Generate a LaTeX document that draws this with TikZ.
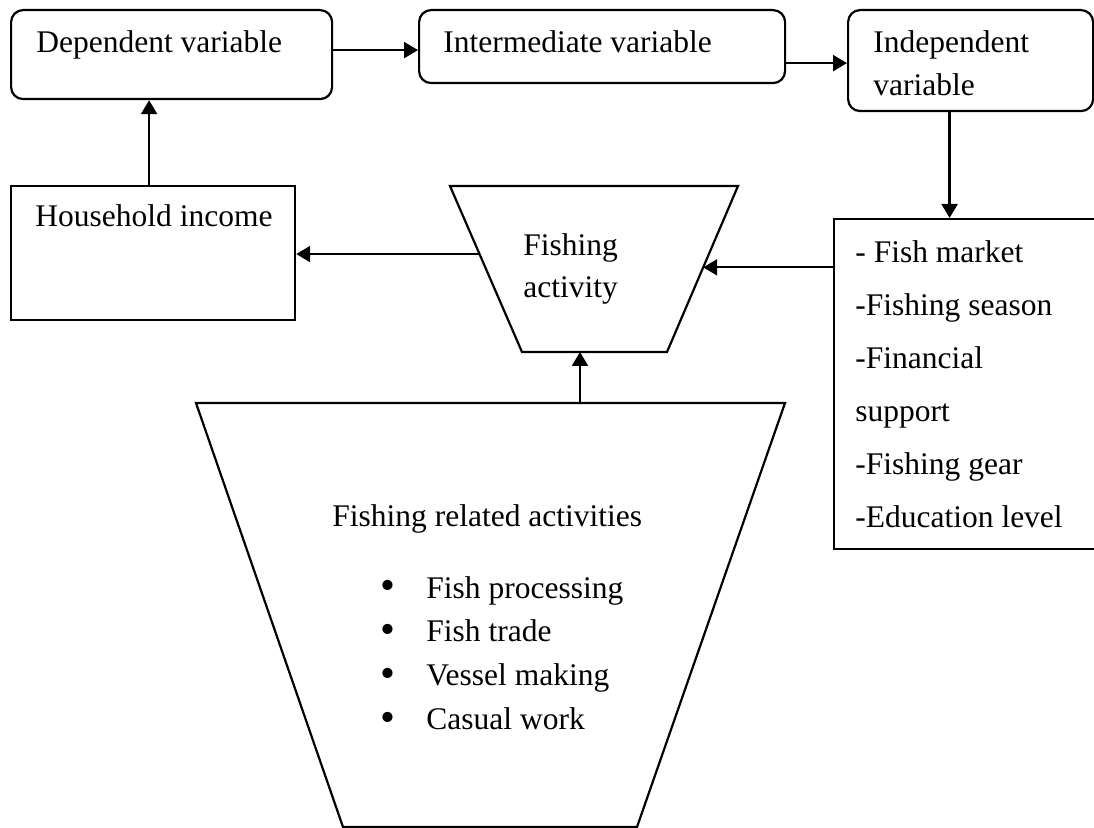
\documentclass[tikz,border=0pt]{standalone}
\usepackage{fontspec}
\setmainfont{Liberation Serif}
\usetikzlibrary{arrows.meta,calc}

\tikzset{
  rbox/.style={draw, line width=1.1pt, rounded corners=6pt, anchor=north west, inner sep=0pt},
  sbox/.style={draw, line width=1.1pt, anchor=north west, inner sep=0pt},
  txt/.style={anchor=base west, inner sep=0pt},
  arr/.style={line width=1.1pt, -{Triangle[length=7pt,width=8pt]}}
}
\newcommand{\fitem}[1]{\makebox[23pt][l]{\raisebox{-0.8pt}{\scalebox{1.35}{\textbullet}}}#1}

\begin{document}
\begin{tikzpicture}[x=0.5pt, y=-0.5pt, font=\fontsize{15.75pt}{21pt}\selectfont]
\useasboundingbox (0,0) rectangle (1094,828);

% Variables row
\node[rbox, minimum width=160.5pt, minimum height=44.5pt] (dep) at (10,9) {};
\node[txt] (deptxt) at (36,53) {Dependent variable};
\node[rbox, minimum width=183pt, minimum height=36.5pt] (int) at (418,9) {};
\node[txt] (inttxt) at (443,53) {Intermediate variable};
\node[rbox, minimum width=122.5pt, minimum height=50.5pt] (indep) at (847,9) {};
\node[txt, align=left, font=\fontsize{15.75pt}{21.5pt}\selectfont] (indeptxt) at (873,96) {Independent\\variable};

% Household income
\node[sbox, minimum width=142pt, minimum height=67pt] (hh) at (10,185) {};
\node[txt] (hhtxt) at (35,227) {Household income};

% Factors
\node[sbox, minimum width=131.5pt, minimum height=165pt] (fac) at (833,218) {};
\node[txt, align=left, font=\fontsize{15.75pt}{26.5pt}\selectfont] (factxt) at (855,528)
  {- Fish market\\-Fishing season\\-Financial\\support\\-Fishing gear\\-Education level};

% Fishing activity
\coordinate (fa-tl) at (450,186);
\coordinate (fa-tr) at (738,186);
\coordinate (fa-br) at (667,352);
\coordinate (fa-bl) at (522,352);
\draw[line width=1.1pt] (fa-tl) -- (fa-tr) -- (fa-br) -- (fa-bl) -- cycle;
\node[txt, align=left] (fatxt) at (523,298) {Fishing\\activity};

% Fishing related activities
\coordinate (fr-tl) at (196,403);
\coordinate (fr-tr) at (785,403);
\coordinate (fr-br) at (637,827);
\coordinate (fr-bl) at (343,827);
\draw[line width=1.1pt] (fr-tl) -- (fr-tr) -- (fr-br) -- (fr-bl) -- cycle;
\node[txt] (frtxt) at (332,527) {Fishing related activities};
\node[txt, align=left, font=\fontsize{15.75pt}{22pt}\selectfont] (fritems) at (380,730)
  {\fitem{Fish processing}\\\fitem{Fish trade}\\\fitem{Vessel making}\\\fitem{Casual work}};

% Connectors
\coordinate (fa-l) at ($(fa-tl)!0.41!(fa-bl)$);
\coordinate (fa-r) at ($(fa-tr)!0.49!(fa-br)$);
\coordinate (fa-b) at ($(fa-bl)!0.4!(fa-br)$);
\coordinate (in-b) at ($(indep.south west)!0.415!(indep.south east)$);
\coordinate (hh-up) at ([xshift=-2pt]hh.north);
\coordinate (int-in) at ([yshift=-1.75pt]int.west);
\coordinate (indep-in) at ([yshift=-1.25pt]indep.west);
\draw[arr] (hh-up) -- (hh-up |- dep.south);
\draw[arr] (dep.east |- int-in) -- (int-in);
\draw[arr] (int.east |- indep-in) -- (indep-in);
\draw[arr] (in-b) -- (in-b |- fac.north);
\draw[arr] (fa-r -| fac.west) -- (fa-r);
\draw[arr] (fa-l) -- (fa-l -| hh.east);
\draw[arr] (fa-b |- fr-tl) -- (fa-b);
\end{tikzpicture}
\end{document}
